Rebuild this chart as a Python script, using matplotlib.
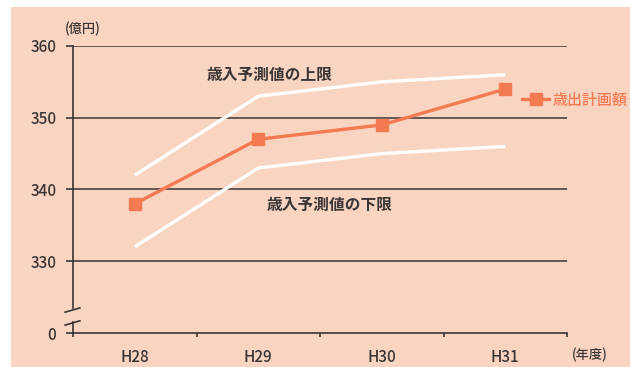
import matplotlib
matplotlib.use("Agg")
import matplotlib.pyplot as plt
from matplotlib.patches import Rectangle

plt.rcParams['font.family'] = ['Noto Sans CJK JP', 'DejaVu Sans']
plt.rcParams['font.weight'] = 'medium'

# data (億円)
years = ['H28', 'H29', 'H30', 'H31']
plan = [338, 347, 349, 354]          # 歳出計画額
upper = [342, 353, 355, 356]         # 歳入予測値の上限
lower = [332, 343, 345, 346]         # 歳入予測値の下限
yticks = [320, 330, 340, 350, 360]   # 320 is drawn as the broken "0"
ytick_labels = ['0', '330', '340', '350', '360']

bg = '#f8d4c1'
orange = '#f47a52'
dark = '#3a3535'

fig = plt.figure(figsize=(6.3, 3.67), dpi=100, facecolor='white')
fig.add_artist(Rectangle((11 / 630, 0), 1, 360 / 367, transform=fig.transFigure,
                         facecolor=bg, edgecolor='none', zorder=-10))
ax = fig.add_axes([73 / 630, 34 / 367, 494 / 630, 287 / 367])
ax.set_facecolor('none')

x = range(len(years))
ax.set_xlim(-0.5, 3.5)
ax.set_ylim(320, 360)

# horizontal grid lines
for v in yticks[1:]:
    ax.axhline(v, color=dark, lw=1.1, zorder=1)

ax.plot(x, upper, color='white', lw=2.4, zorder=2, solid_capstyle='butt')
ax.plot(x, lower, color='white', lw=2.4, zorder=2, solid_capstyle='butt')
ax.plot(x, plan, color=orange, lw=2.4, marker='s', ms=8.5, zorder=3, label='歳出計画額')

ax.text(1.095, 356.0, '歳入予測値の上限', ha='center', va='center', fontsize=11.3,
        color=dark, fontweight='bold')
ax.text(1.58, 337.8, '歳入予測値の下限', ha='center', va='center', fontsize=11.3,
        color=dark, fontweight='bold')

leg = ax.legend(loc='center left', bbox_to_anchor=(0.909, 0.8125), frameon=False,
                borderpad=0, borderaxespad=0, handlelength=1.8, handletextpad=0.25,
                prop={'size': 10.8}, labelcolor='linecolor')
leg.set_clip_on(False)

# axes and ticks
for s in ['top', 'right']:
    ax.spines[s].set_visible(False)
ax.spines['bottom'].set_color(dark)
ax.spines['bottom'].set_linewidth(1.2)
ax.spines['left'].set_color(dark)
ax.spines['left'].set_linewidth(1.2)
ax.spines['left'].set_bounds(323.5, 360)
ax.plot([-0.5, -0.5], [320, 321.6], color=dark, lw=1.2, clip_on=False)

# axis break marks
tr = ax.get_yaxis_transform()
ax.plot([-0.016, 0.014], [322.9, 323.5], color=dark, lw=1.2, transform=tr, clip_on=False)
ax.plot([-0.016, 0.014], [321.1, 321.7], color=dark, lw=1.2, transform=tr, clip_on=False)

ax.set_xticks(list(x))
ax.set_xticklabels(years)
ax.set_xticks([-0.5, 0.5, 1.5, 2.5, 3.5], minor=True)
ax.tick_params(axis='x', which='major', length=0, pad=11.5, labelsize=11, labelcolor=dark)
ax.tick_params(axis='x', which='minor', length=3, width=1.2, color=dark, direction='out')
ax.set_yticks(yticks)
ax.set_yticklabels(ytick_labels)
ax.tick_params(axis='y', length=5, width=1.2, color=dark, pad=7, labelsize=11, labelcolor=dark)

fig.text(83 / 630, 1 - 29 / 367, '(億円)', ha='center', va='center', fontsize=9.5, color=dark)
fig.text(590 / 630, 1 - 355 / 367, '(年度)', ha='center', va='center', fontsize=9.5, color=dark)

fig.savefig('out.png', dpi=100, facecolor='white')
